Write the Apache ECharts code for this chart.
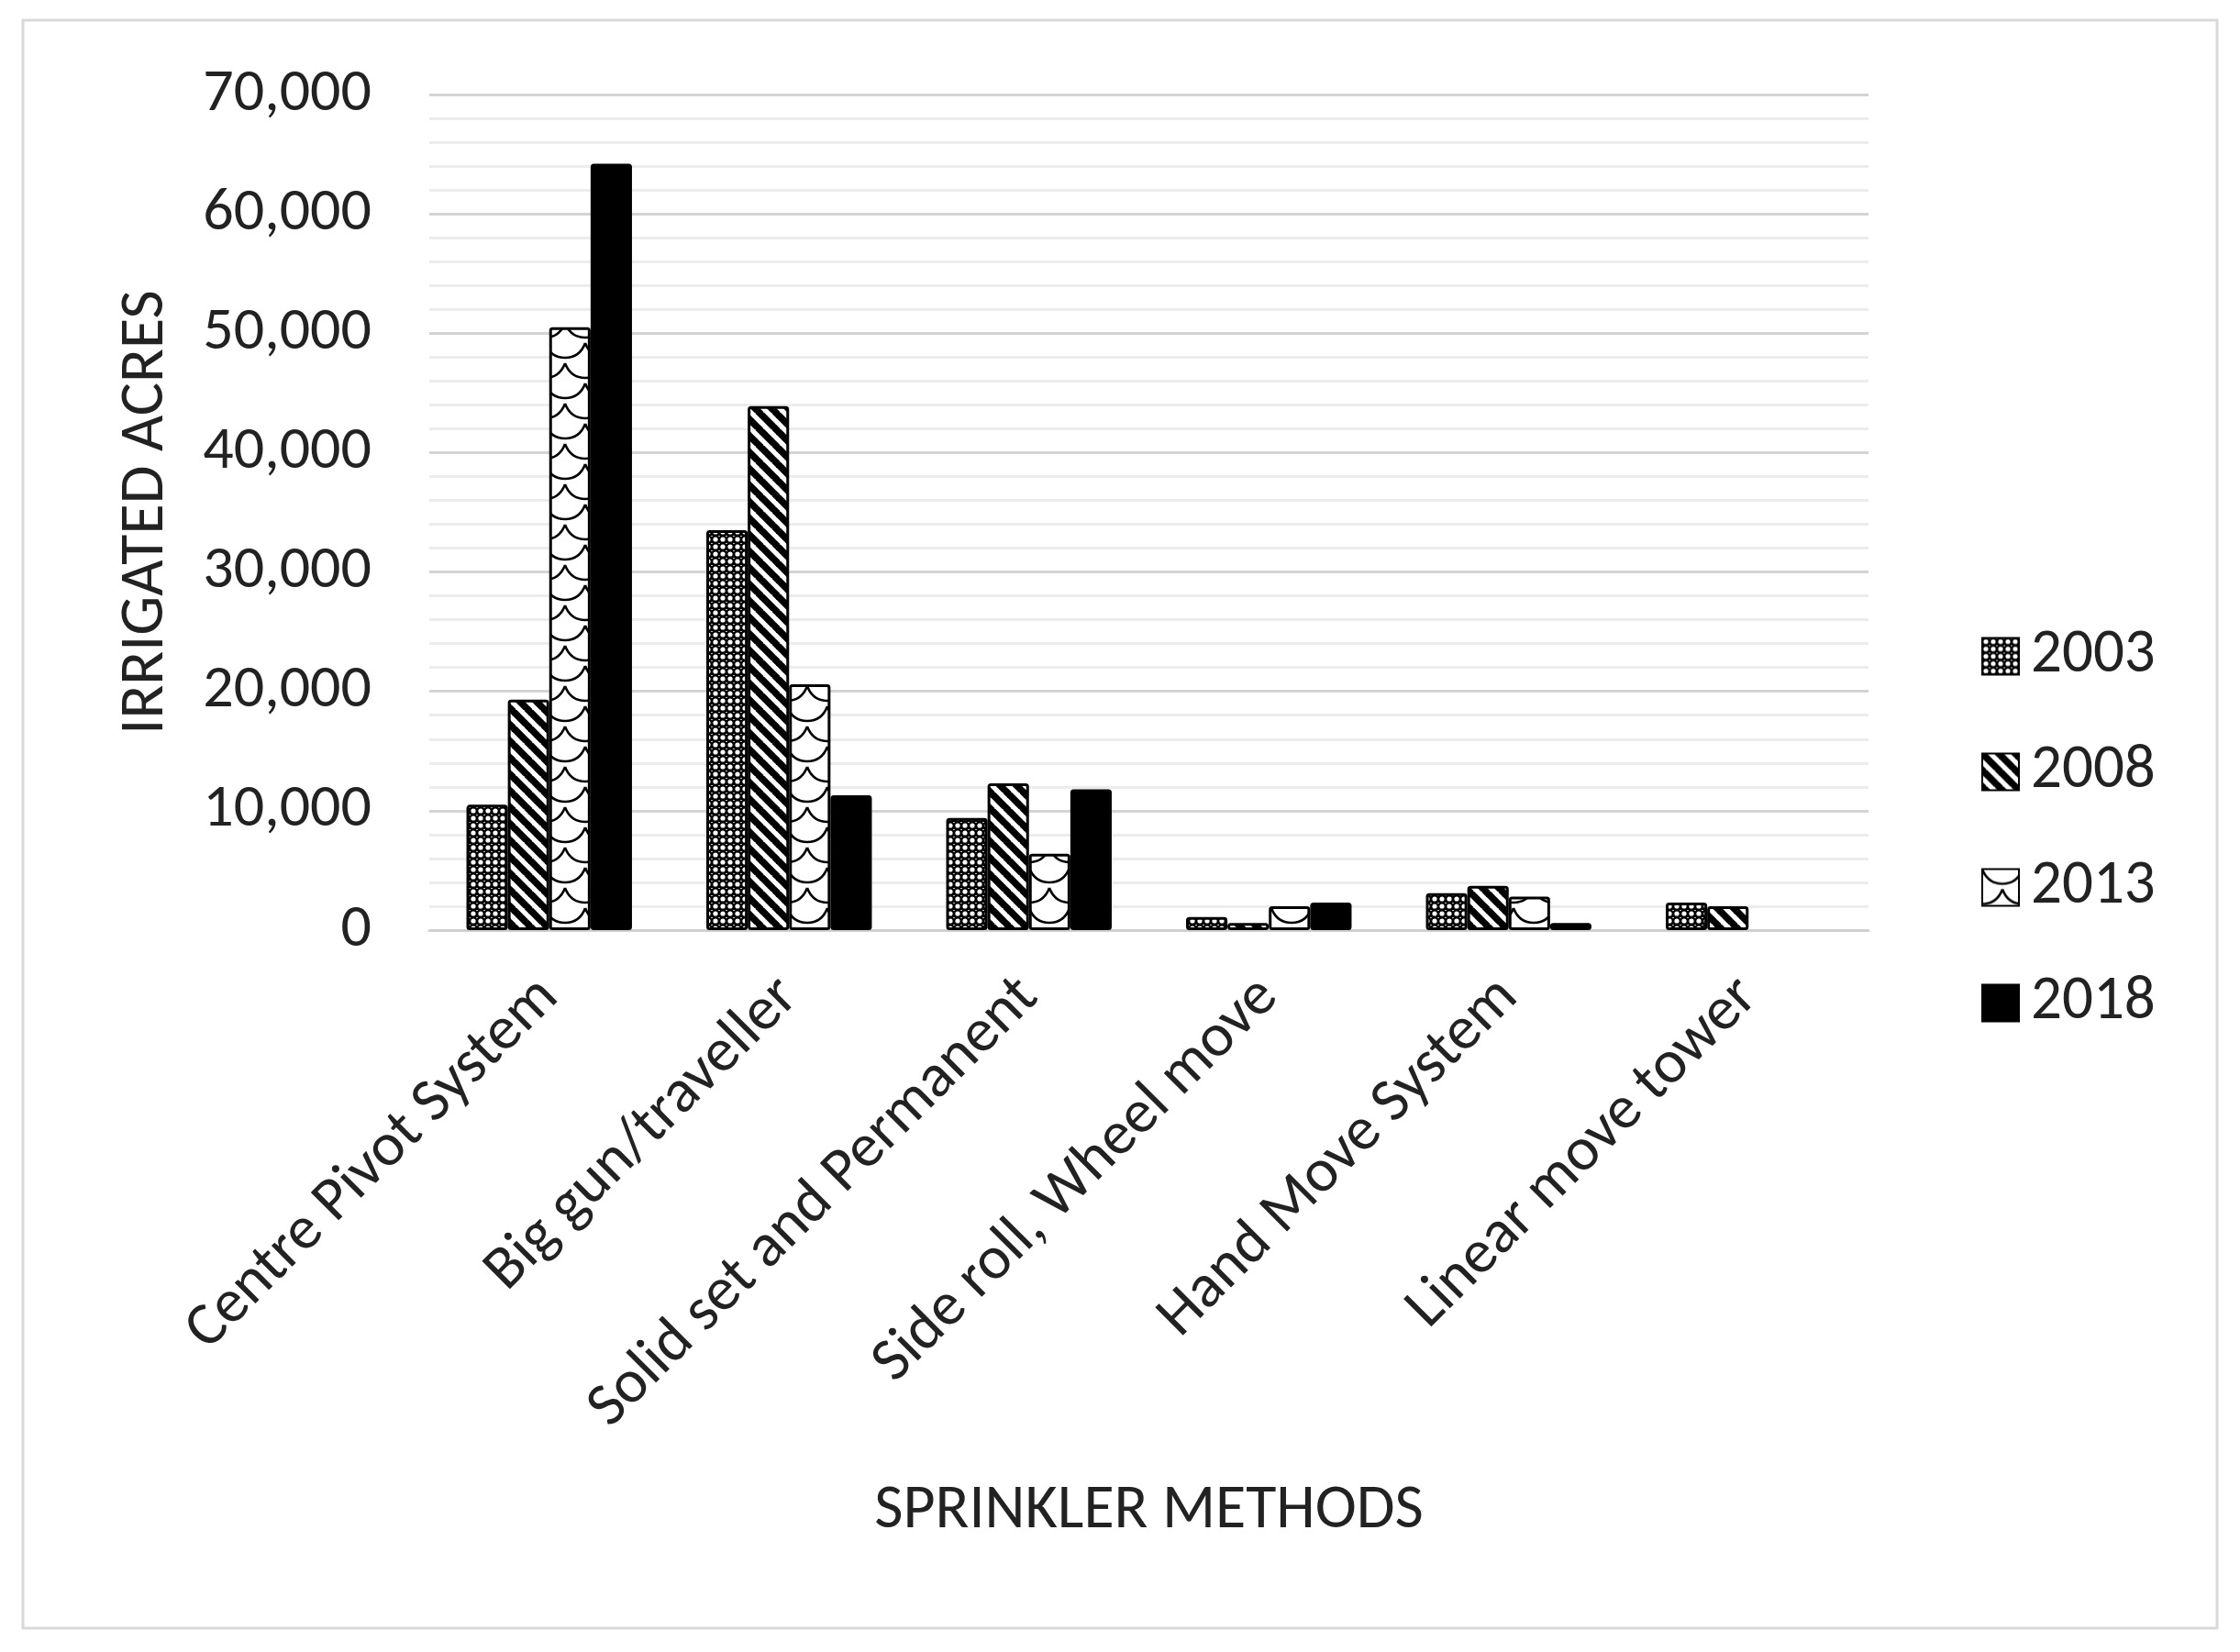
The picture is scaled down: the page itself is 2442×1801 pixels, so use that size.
<!DOCTYPE html>
<html>
<head>
<meta charset="utf-8">
<title>Sprinkler methods</title>
<script src="https://cdn.jsdelivr.net/npm/echarts@6/dist/echarts.min.js"></script>
<style>
  html, body { margin: 0; padding: 0; background: #fff; }
  #chart { width: 2442px; height: 1801px; }
</style>
</head>
<body>
<div id="chart"></div>
<script>
  // data
  var categories = ['Centre Pivot System', 'Big gun/traveller', 'Solid set and Permanent',
    'Side roll, Wheel move', 'Hand Move System', 'Linear move tower'];
  var years = ['2003', '2008', '2013', '2018'];
  var acres2003 = [10500, 33500, 9400, 1100, 3100, 2300];
  var acres2008 = [19300, 43900, 12300, 600, 3700, 2000];
  var acres2013 = [50500, 20600, 6400, 2000, 2800, null];
  var acres2018 = [64200, 11300, 11800, 2300, 600, null];
  var yMax = 70000;
  var yStep = 10000;

  var FONT = 'Carlito, "Liberation Sans", Arial, sans-serif';

  // fill patterns (black & white like the original)
  function makeTile (w, h, draw) {
    var c = document.createElement('canvas');
    c.width = w;
    c.height = h;
    var ctx = c.getContext('2d');
    draw(ctx, w, h);
    return c;
  }

  var dots = makeTile(8, 8, function (ctx, w, h) {
    ctx.fillStyle = '#000';
    ctx.fillRect(0, 0, w, h);
    ctx.fillStyle = '#fff';
    ctx.beginPath();
    ctx.arc(4, 4, 2.6, 0, Math.PI * 2);
    ctx.fill();
    ctx.beginPath();
    ctx.arc(0, 0, 1.0, 0, Math.PI * 2);
    ctx.arc(8, 0, 1.0, 0, Math.PI * 2);
    ctx.fill();
  });

  var stripes = makeTile(18, 18, function (ctx, w, h) {
    ctx.fillStyle = '#fff';
    ctx.fillRect(0, 0, w, h);
    ctx.strokeStyle = '#000';
    ctx.lineWidth = 7.5;
    for (var k = -1; k <= 1; k++) {
      ctx.beginPath();
      ctx.moveTo(k * w - 2, -2);
      ctx.lineTo(k * w + w + 2, h + 2);
      ctx.stroke();
    }
  });

  // scallop / wave marks
  var waves = makeTile(44, 44, function (ctx, w, h) {
    ctx.fillStyle = '#fff';
    ctx.fillRect(0, 0, w, h);
    ctx.strokeStyle = '#000';
    ctx.lineWidth = 2.6;
    function cup (x0, y0) {
      ctx.moveTo(x0, y0);
      ctx.quadraticCurveTo(x0 + 6, y0 + 16, x0 + 22, y0 + 16);
      ctx.quadraticCurveTo(x0 + 38, y0 + 16, x0 + 44, y0);
    }
    ctx.beginPath();
    cup(0, 0);
    cup(0, 44);
    cup(-22, 22);
    cup(22, 22);
    cup(-22, -22);
    cup(22, -22);
    ctx.stroke();
  });

  var fills = [
    { image: dots, repeat: 'repeat' },
    { image: stripes, repeat: 'repeat' },
    { image: waves, repeat: 'repeat' },
    '#000'
  ];
  var values = [acres2003, acres2008, acres2013, acres2018];

  var series = years.map(function (y, i) {
    return {
      name: y,
      type: 'bar',
      barGap: '0%',
      barCategoryGap: '31%',
      data: values[i],
      itemStyle: {
        color: fills[i],
        borderColor: '#000',
        borderWidth: 3,
        borderRadius: 2
      }
    };
  });

  var chart = echarts.init(document.getElementById('chart'));
  chart.setOption({
    animation: false,
    backgroundColor: '#fff',
    textStyle: { fontFamily: FONT },
    graphic: [{
      type: 'rect',
      shape: { x: 25, y: 22, width: 2392, height: 1753 },
      style: { fill: 'none', stroke: '#d9d9d9', lineWidth: 3 }
    }],
    grid: { left: 468, right: 405, top: 103, bottom: 787 },
    legend: {
      orient: 'vertical',
      left: 2155,
      top: 677,
      itemWidth: 40,
      itemHeight: 40,
      itemGap: 59,
      icon: 'rect',
      textStyle: { fontSize: 67, color: '#222', fontFamily: FONT, padding: [0, 0, 0, 8] },
      data: years
    },
    xAxis: {
      type: 'category',
      data: categories,
      name: 'SPRINKLER METHODS',
      nameLocation: 'middle',
      nameGap: 600,
      nameTextStyle: { fontSize: 68, color: '#222', fontFamily: FONT },
      axisLine: { lineStyle: { color: '#d0d0d0', width: 3 } },
      axisTick: { show: false },
      axisLabel: { rotate: 45, margin: 63, fontSize: 67, color: '#222', fontFamily: FONT, interval: 0 }
    },
    yAxis: {
      type: 'value',
      min: 0,
      max: yMax,
      interval: yStep,
      name: 'IRRIGATED ACRES',
      nameLocation: 'middle',
      nameGap: 274,
      nameTextStyle: { fontSize: 68, color: '#222', fontFamily: FONT },
      axisLine: { show: false },
      axisTick: { show: false },
      axisLabel: {
        margin: 63,
        fontSize: 66,
        color: '#222',
        fontFamily: FONT,
        formatter: function (v) { return v.toLocaleString('en-US'); }
      },
      splitLine: { lineStyle: { color: '#d4d4d4', width: 3 } },
      minorTick: { show: false, splitNumber: 5 },
      minorSplitLine: { show: true, lineStyle: { color: '#ececec', width: 3 } }
    },
    series: series
  });
</script>
</body>
</html>
